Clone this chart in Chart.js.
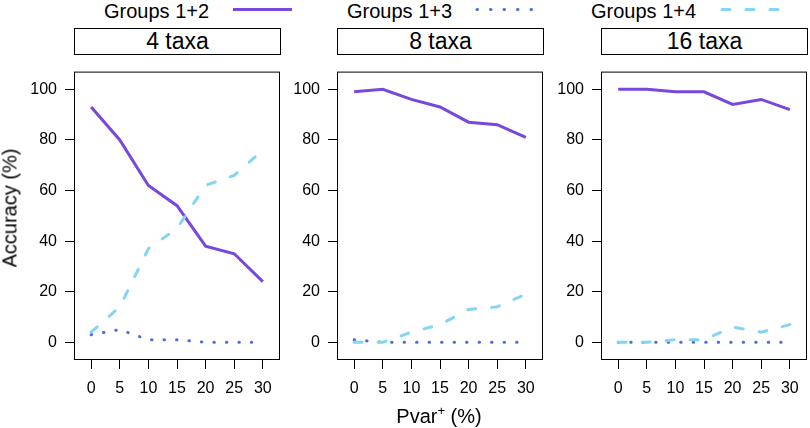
<!DOCTYPE html>
<html>
<head>
<meta charset="utf-8">
<script src="https://cdn.jsdelivr.net/npm/chart.js@4"></script>
<style>
  body { margin: 0; width: 810px; height: 428px; overflow: hidden; background: #fff; position: relative;
         font-family: "Liberation Sans", Arial, Helvetica, sans-serif; color: #000; }
  canvas { position: absolute; }
  .leg-text { position: absolute; top: 0; font-size: 20px; line-height: 22px; white-space: nowrap; }
  .leg-line { position: absolute; top: 0; }
  .strip { position: absolute; top: 28px; height: 27px; width: 207px; box-sizing: border-box;
           border: 1px solid #000; font-size: 23px; line-height: 25px; text-align: center; }
  .ytitle { position: absolute; left: 10px; top: 208px; font-size: 20px; white-space: nowrap;
            transform: translate(-50%, -50%) rotate(-90deg); }
  .xtitle { position: absolute; left: 439px; top: 416px; font-size: 20px; white-space: nowrap;
            transform: translate(-50%, -50%); }
  .xtitle sup { font-size: 13px; vertical-align: 8px; line-height: 0; }
</style>
</head>
<body>

<!-- legend -->
<div class="leg-text" style="left:104px">Groups 1+2</div>
<svg class="leg-line" style="left:230px" width="66" height="20"><line x1="3" y1="9.5" x2="62" y2="9.5" stroke="#7847DE" stroke-width="3"/></svg>
<div class="leg-text" style="left:347px">Groups 1+3</div>
<svg class="leg-line" style="left:473px" width="66" height="20"><line x1="4" y1="9.5" x2="60" y2="9.5" stroke="#4B6EDC" stroke-width="3" stroke-linecap="round" stroke-dasharray="0.5 13"/></svg>
<div class="leg-text" style="left:591px">Groups 1+4</div>
<svg class="leg-line" style="left:717px" width="66" height="20"><line x1="5" y1="9.5" x2="62" y2="9.5" stroke="#84D5F4" stroke-width="3" stroke-linecap="round" stroke-dasharray="8 16"/></svg>

<!-- strips -->
<div class="strip" style="left:74px">4 taxa</div>
<div class="strip" style="left:337px">8 taxa</div>
<div class="strip" style="left:601px">16 taxa</div>

<canvas id="panel1" width="284" height="374" style="left:0px; top:54px"></canvas>
<canvas id="panel2" width="284" height="374" style="left:263px; top:54px"></canvas>
<canvas id="panel3" width="284" height="374" style="left:527px; top:54px"></canvas>

<div class="ytitle">Accuracy (%)</div>
<div class="xtitle">Pvar<sup>+</sup> (%)</div>

<script>
// データ
// 
// 

const pvar = [0, 5, 10, 15, 20, 25, 30];
const xTicks = [0, 5, 10, 15, 20, 25, 30];
const yTicks = [0, 20, 40, 60, 80, 100];

// 4 taxa
const g12_4 = [93, 80, 62, 54, 38, 35, 24];
const g13_4 = [3, 5, 1, 1, 0, 0, 0];
const g14_4 = [4, 14, 37, 45, 62, 66, 76];

// 8 taxa
const g12_8 = [99, 100, 96, 93, 87, 86, 81];
const g13_8 = [1, 0, 0, 0, 0, 0, 0];
const g14_8 = [0, 0, 4, 7, 13, 14, 19];

// 16 taxa
const g12_16 = [100, 100, 99, 99, 94, 96, 92];
const g13_16 = [0, 0, 0, 0, 0, 0, 0];
const g14_16 = [0, 0, 1, 1, 6, 4, 7];


// パネル描画
// 
// 

const fontFamily = '"Liberation Sans", Arial, Helvetica, sans-serif';

// 枠線
const framePlugin = {
    id: 'frame',
    afterDraw(chart) {
        const { ctx, chartArea: a } = chart;
        ctx.save();
        ctx.strokeStyle = '#000';
        ctx.lineWidth = 1;
        ctx.strokeRect(a.left + 0.5, a.top + 0.5, a.right - a.left - 1, a.bottom - a.top - 1);
        ctx.restore();
    }
};

const toPoints = (values) => pvar.map((x, i) => ({ x: x, y: values[i] }));

function drawPanel(id, g12, g13, g14) {
    const ctx = document.getElementById(id).getContext('2d');

    new Chart(ctx, {
        type: 'line',
        data: {
            datasets: [
                {
                    label: 'Groups 1+2',
                    data: toPoints(g12),
                    borderColor: '#7847DE',
                    borderWidth: 3,
                    order: 2
                },
                {
                    label: 'Groups 1+3',
                    data: toPoints(g13),
                    borderColor: '#4B6EDC',
                    borderWidth: 3,
                    borderDash: [0.5, 12],
                    borderCapStyle: 'round',
                    order: 1
                },
                {
                    label: 'Groups 1+4',
                    data: toPoints(g14),
                    borderColor: '#84D5F4',
                    borderWidth: 3,
                    borderDash: [8, 16],
                    borderCapStyle: 'round',
                    order: 0
                }
            ]
        },
        options: {
            responsive: false,
            animation: false,
            devicePixelRatio: 1,
            elements: {
                point: { radius: 0 },
                line: { tension: 0 }
            },
            layout: { padding: { left: 0, right: 4, top: 0, bottom: 0 } },
            plugins: {
                legend: { display: false },
                tooltip: { enabled: false }
            },
            scales: {
                x: {
                    type: 'linear',
                    min: -3,
                    max: 33,
                    afterBuildTicks: (scale) => { scale.ticks = xTicks.map(v => ({ value: v })); },
                    afterFit: (scale) => { scale.height = 68; },
                    grid: { drawOnChartArea: false, drawTicks: true, tickLength: 9, color: '#000' },
                    border: { display: false },
                    ticks: {
                        color: '#000',
                        padding: 10,
                        maxRotation: 0,
                        autoSkip: false,
                        font: { size: 16, family: fontFamily }
                    }
                },
                y: {
                    min: -7,
                    max: 107,
                    afterBuildTicks: (scale) => { scale.ticks = yTicks.map(v => ({ value: v })); },
                    afterFit: (scale) => { scale.width = 74; },
                    grid: { drawOnChartArea: false, drawTicks: true, tickLength: 9, color: '#000' },
                    border: { display: false },
                    ticks: {
                        color: '#000',
                        padding: 8,
                        autoSkip: false,
                        font: { size: 16, family: fontFamily }
                    }
                }
            }
        },
        plugins: [framePlugin]
    });
}

drawPanel('panel1', g12_4, g13_4, g14_4);
drawPanel('panel2', g12_8, g13_8, g14_8);
drawPanel('panel3', g12_16, g13_16, g14_16);
</script>
</body>
</html>
